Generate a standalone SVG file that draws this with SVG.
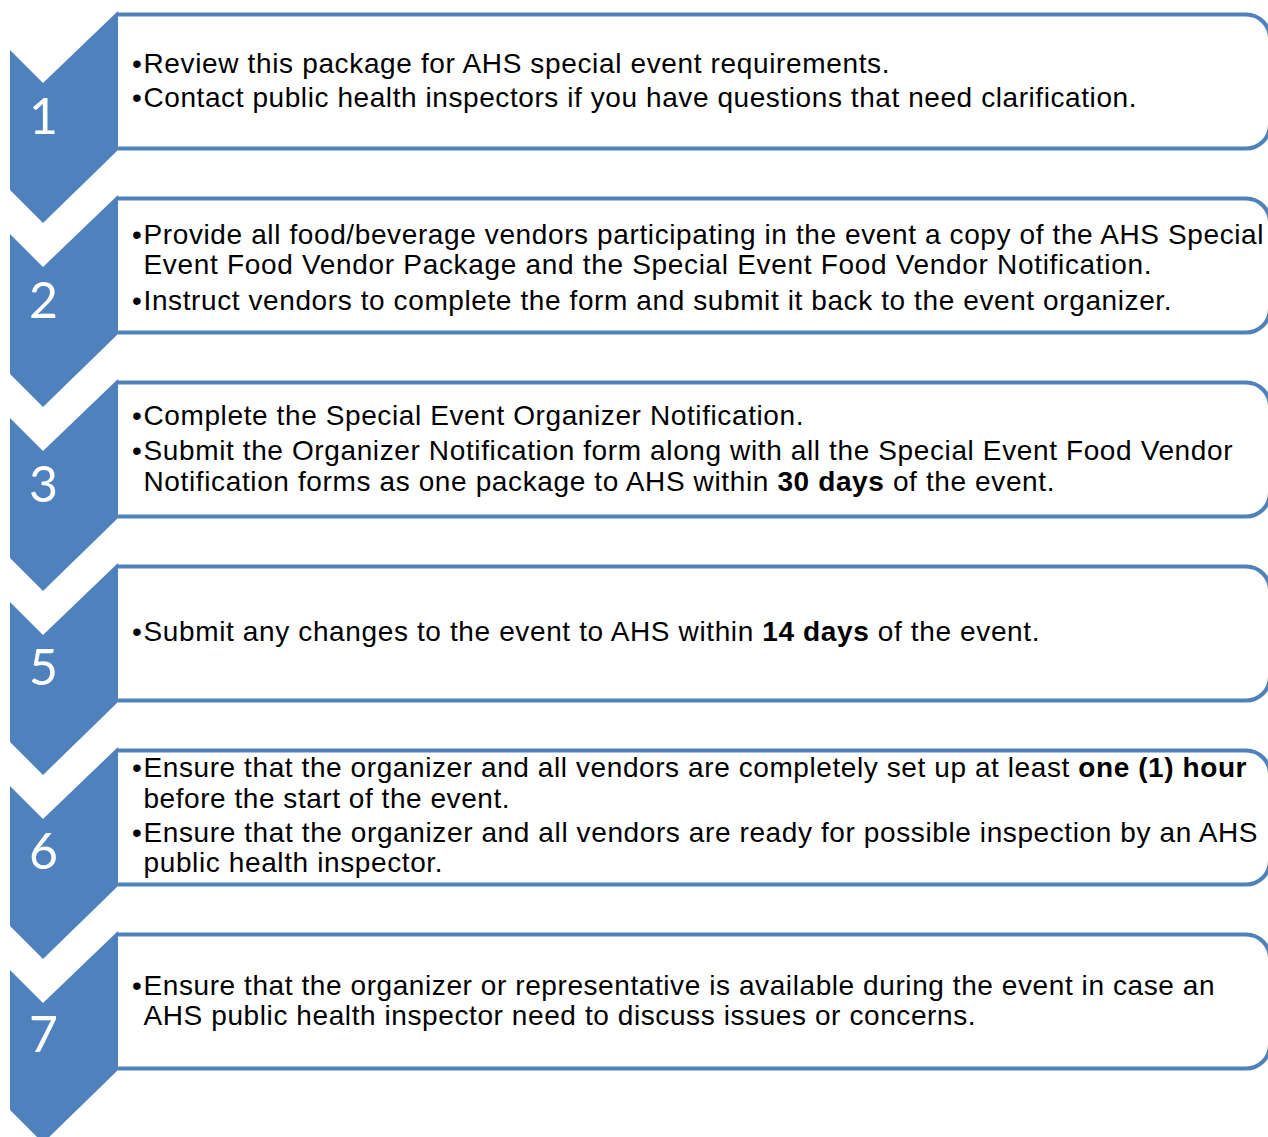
<svg xmlns="http://www.w3.org/2000/svg" width="1268" height="1137" viewBox="0 0 1268 1137">
<style>
.box{fill:#ffffff;stroke:#4F81BD;stroke-width:4}
.chev{fill:#4F81BD}
.num{font-family:Lato,"DejaVu Sans",sans-serif;font-size:50px;fill:#ffffff;text-anchor:middle}
.t{font-family:"Liberation Sans",Arial,sans-serif;font-size:28px;fill:#000000}
.bul{font-family:"Liberation Sans",Arial,sans-serif;font-size:28px;fill:#000000;text-anchor:middle}
.b{font-weight:bold}
</style>
<defs>
<path id="boxshape" class="box" d="M118,14.5 H1246 A24,24 0 0 1 1270,38.5 V124.5 A24,24 0 0 1 1246,148.5 H118"/>
<path id="chevshape" class="chev" d="M10,50 L43,83 L118,11 L118,150 L43,223 L10,190 Z"/>
</defs>
<rect width="1268" height="1137" fill="#ffffff"/>
<g id="step1">
<use href="#boxshape"/>
<use href="#chevshape"/>
<text class="num" x="43.5" y="134">1</text>
<text class="bul" x="137" y="72.5">•</text>
<text class="t" x="143.5" y="72.5" textLength="746" lengthAdjust="spacing">Review this package for AHS special event requirements.</text>
<text class="bul" x="137" y="107">•</text>
<text class="t" x="143.5" y="107" textLength="993" lengthAdjust="spacing">Contact public health inspectors if you have questions that need clarification.</text>
</g>
<g id="step2" >
<g transform="translate(0,184)"><use href="#boxshape"/><use href="#chevshape"/></g>
<text class="num" x="43.5" y="318">2</text>
<text class="bul" x="137" y="243.5">•</text>
<text class="t" x="143.5" y="243.5" textLength="1120" lengthAdjust="spacing">Provide all food/beverage vendors participating in the event a copy of the AHS Special</text>
<text class="t" x="143.5" y="274" textLength="1008" lengthAdjust="spacing">Event Food Vendor Package and the Special Event Food Vendor Notification.</text>
<text class="bul" x="137" y="310">•</text>
<text class="t" x="143.5" y="310" textLength="1028" lengthAdjust="spacing">Instruct vendors to complete the form and submit it back to the event organizer.</text>
</g>
<g id="step3">
<g transform="translate(0,368)"><use href="#boxshape"/><use href="#chevshape"/></g>
<text class="num" x="43.5" y="501.5">3</text>
<text class="bul" x="137" y="424.5">•</text>
<text class="t" x="143.5" y="424.5" textLength="660" lengthAdjust="spacing">Complete the Special Event Organizer Notification.</text>
<text class="bul" x="137" y="460">•</text>
<text class="t" x="143.5" y="460" textLength="1089" lengthAdjust="spacing">Submit the Organizer Notification form along with all the Special Event Food Vendor</text>
<text class="t" x="143.5" y="490.5" textLength="911" lengthAdjust="spacing">Notification forms as one package to AHS within <tspan class="b">30 days</tspan> of the event.</text>
</g>
<g id="step5">
<g transform="translate(0,552)"><use href="#boxshape"/><use href="#chevshape"/></g>
<text class="num" x="43.5" y="685">5</text>
<text class="bul" x="137" y="640.5">•</text>
<text class="t" x="143.5" y="640.5" textLength="896" lengthAdjust="spacing">Submit any changes to the event to AHS within <tspan class="b">14 days</tspan> of the event.</text>
</g>
<g id="step6">
<g transform="translate(0,736)"><use href="#boxshape"/><use href="#chevshape"/></g>
<text class="num" x="43.5" y="868.5">6</text>
<text class="bul" x="137" y="777">•</text>
<text class="t" x="143.5" y="777" textLength="1103" lengthAdjust="spacing">Ensure that the organizer and all vendors are completely set up at least <tspan class="b">one (1) hour</tspan></text>
<text class="t" x="143.5" y="807.5" textLength="366" lengthAdjust="spacing">before the start of the event.</text>
<text class="bul" x="137" y="842">•</text>
<text class="t" x="143.5" y="842" textLength="1114" lengthAdjust="spacing">Ensure that the organizer and all vendors are ready for possible inspection by an AHS</text>
<text class="t" x="143.5" y="872" textLength="299" lengthAdjust="spacing">public health inspector.</text>
</g>
<g id="step7">
<g transform="translate(0,920)"><use href="#boxshape"/><use href="#chevshape"/></g>
<text class="num" x="43.5" y="1052">7</text>
<text class="bul" x="137" y="994.5">•</text>
<text class="t" x="143.5" y="994.5" textLength="1071" lengthAdjust="spacing">Ensure that the organizer or representative is available during the event in case an</text>
<text class="t" x="143.5" y="1025" textLength="832" lengthAdjust="spacing">AHS public health inspector need to discuss issues or concerns.</text>
</g>
<g id="connectors"></g>
</svg>
